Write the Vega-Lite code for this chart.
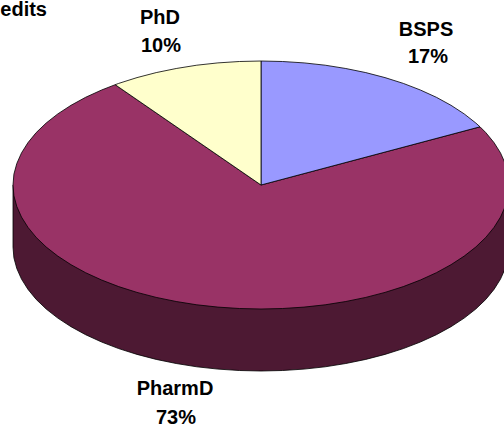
{"$schema":"https://vega.github.io/schema/vega-lite/v6.json","width":504,"height":432,"autosize":{"type":"fit","contains":"padding"},"padding":0,"background":"white","view":{"stroke":null},
"datasets":{"pie":[
{"s":"PharmD side","i":0,"x":509,"y":185},{"s":"PharmD side","i":1,"x":509,"y":247},{"s":"PharmD side","i":2,"x":508.1,"y":257.8},{"s":"PharmD side","i":3,"x":505.2,"y":268.5},{"s":"PharmD side","i":4,"x":500.5,"y":279.1},{"s":"PharmD side","i":5,"x":494,"y":289.4},{"s":"PharmD side","i":6,"x":485.8,"y":299.4},{"s":"PharmD side","i":7,"x":475.8,"y":309},{"s":"PharmD side","i":8,"x":464.2,"y":318.1},{"s":"PharmD side","i":9,"x":451,"y":326.7},{"s":"PharmD side","i":10,"x":436.4,"y":334.7},{"s":"PharmD side","i":11,"x":420.4,"y":342},{"s":"PharmD side","i":12,"x":403.3,"y":348.6},{"s":"PharmD side","i":13,"x":385,"y":354.4},{"s":"PharmD side","i":14,"x":365.8,"y":359.4},{"s":"PharmD side","i":15,"x":345.8,"y":363.5},{"s":"PharmD side","i":16,"x":325.2,"y":366.8},{"s":"PharmD side","i":17,"x":304.1,"y":369.1},{"s":"PharmD side","i":18,"x":282.6,"y":370.5},{"s":"PharmD side","i":19,"x":261,"y":371},{"s":"PharmD side","i":20,"x":239.4,"y":370.5},{"s":"PharmD side","i":21,"x":217.9,"y":369.1},{"s":"PharmD side","i":22,"x":196.8,"y":366.8},{"s":"PharmD side","i":23,"x":176.2,"y":363.5},{"s":"PharmD side","i":24,"x":156.2,"y":359.4},{"s":"PharmD side","i":25,"x":137,"y":354.4},{"s":"PharmD side","i":26,"x":118.7,"y":348.6},{"s":"PharmD side","i":27,"x":101.6,"y":342},{"s":"PharmD side","i":28,"x":85.6,"y":334.7},{"s":"PharmD side","i":29,"x":71,"y":326.7},{"s":"PharmD side","i":30,"x":57.8,"y":318.1},{"s":"PharmD side","i":31,"x":46.2,"y":309},{"s":"PharmD side","i":32,"x":36.2,"y":299.4},{"s":"PharmD side","i":33,"x":28,"y":289.4},{"s":"PharmD side","i":34,"x":21.5,"y":279.1},{"s":"PharmD side","i":35,"x":16.8,"y":268.5},{"s":"PharmD side","i":36,"x":13.9,"y":257.8},{"s":"PharmD side","i":37,"x":13,"y":247},{"s":"PharmD side","i":38,"x":13,"y":185},
{"s":"PharmD","i":0,"x":261,"y":185},{"s":"PharmD","i":1,"x":480,"y":126.8},{"s":"PharmD","i":2,"x":485.8,"y":132.6},{"s":"PharmD","i":3,"x":494,"y":142.6},{"s":"PharmD","i":4,"x":500.5,"y":152.9},{"s":"PharmD","i":5,"x":505.2,"y":163.5},{"s":"PharmD","i":6,"x":508.1,"y":174.2},{"s":"PharmD","i":7,"x":509,"y":185},{"s":"PharmD","i":8,"x":508.1,"y":195.8},{"s":"PharmD","i":9,"x":505.2,"y":206.5},{"s":"PharmD","i":10,"x":500.5,"y":217.1},{"s":"PharmD","i":11,"x":494,"y":227.4},{"s":"PharmD","i":12,"x":485.8,"y":237.4},{"s":"PharmD","i":13,"x":475.8,"y":247},{"s":"PharmD","i":14,"x":464.2,"y":256.1},{"s":"PharmD","i":15,"x":451,"y":264.7},{"s":"PharmD","i":16,"x":436.4,"y":272.7},{"s":"PharmD","i":17,"x":420.4,"y":280},{"s":"PharmD","i":18,"x":403.3,"y":286.6},{"s":"PharmD","i":19,"x":385,"y":292.4},{"s":"PharmD","i":20,"x":365.8,"y":297.4},{"s":"PharmD","i":21,"x":345.8,"y":301.5},{"s":"PharmD","i":22,"x":325.2,"y":304.8},{"s":"PharmD","i":23,"x":304.1,"y":307.1},{"s":"PharmD","i":24,"x":282.6,"y":308.5},{"s":"PharmD","i":25,"x":261,"y":309},{"s":"PharmD","i":26,"x":239.4,"y":308.5},{"s":"PharmD","i":27,"x":217.9,"y":307.1},{"s":"PharmD","i":28,"x":196.8,"y":304.8},{"s":"PharmD","i":29,"x":176.2,"y":301.5},{"s":"PharmD","i":30,"x":156.2,"y":297.4},{"s":"PharmD","i":31,"x":137,"y":292.4},{"s":"PharmD","i":32,"x":118.7,"y":286.6},{"s":"PharmD","i":33,"x":101.6,"y":280},{"s":"PharmD","i":34,"x":85.6,"y":272.7},{"s":"PharmD","i":35,"x":71,"y":264.7},{"s":"PharmD","i":36,"x":57.8,"y":256.1},{"s":"PharmD","i":37,"x":46.2,"y":247},{"s":"PharmD","i":38,"x":36.2,"y":237.4},{"s":"PharmD","i":39,"x":28,"y":227.4},{"s":"PharmD","i":40,"x":21.5,"y":217.1},{"s":"PharmD","i":41,"x":16.8,"y":206.5},{"s":"PharmD","i":42,"x":13.9,"y":195.8},{"s":"PharmD","i":43,"x":13,"y":185},{"s":"PharmD","i":44,"x":13.9,"y":174.2},{"s":"PharmD","i":45,"x":16.8,"y":163.5},{"s":"PharmD","i":46,"x":21.5,"y":152.9},{"s":"PharmD","i":47,"x":28,"y":142.6},{"s":"PharmD","i":48,"x":36.2,"y":132.6},{"s":"PharmD","i":49,"x":46.2,"y":123},{"s":"PharmD","i":50,"x":57.8,"y":113.9},{"s":"PharmD","i":51,"x":71,"y":105.3},{"s":"PharmD","i":52,"x":85.6,"y":97.3},{"s":"PharmD","i":53,"x":101.6,"y":90},{"s":"PharmD","i":54,"x":115.2,"y":84.7},{"s":"PharmD","i":55,"x":261,"y":185},
{"s":"BSPS","i":0,"x":261,"y":185},{"s":"BSPS","i":1,"x":261,"y":61},{"s":"BSPS","i":2,"x":282.6,"y":61.5},{"s":"BSPS","i":3,"x":304.1,"y":62.9},{"s":"BSPS","i":4,"x":325.2,"y":65.2},{"s":"BSPS","i":5,"x":345.8,"y":68.5},{"s":"BSPS","i":6,"x":365.8,"y":72.6},{"s":"BSPS","i":7,"x":385,"y":77.6},{"s":"BSPS","i":8,"x":403.3,"y":83.4},{"s":"BSPS","i":9,"x":420.4,"y":90},{"s":"BSPS","i":10,"x":436.4,"y":97.3},{"s":"BSPS","i":11,"x":451,"y":105.3},{"s":"BSPS","i":12,"x":464.2,"y":113.9},{"s":"BSPS","i":13,"x":475.8,"y":123},{"s":"BSPS","i":14,"x":480,"y":126.8},{"s":"BSPS","i":15,"x":261,"y":185},
{"s":"PhD","i":0,"x":261,"y":185},{"s":"PhD","i":1,"x":115.2,"y":84.7},{"s":"PhD","i":2,"x":118.7,"y":83.4},{"s":"PhD","i":3,"x":137,"y":77.6},{"s":"PhD","i":4,"x":156.2,"y":72.6},{"s":"PhD","i":5,"x":176.2,"y":68.5},{"s":"PhD","i":6,"x":196.8,"y":65.2},{"s":"PhD","i":7,"x":217.9,"y":62.9},{"s":"PhD","i":8,"x":239.4,"y":61.5},{"s":"PhD","i":9,"x":261,"y":61},{"s":"PhD","i":10,"x":261,"y":185}
],
"labels":[
{"t":"edits","x":47,"y":16,"a":"end"},
{"t":"PhD","x":160,"y":24},{"t":"10%","x":161,"y":52},
{"t":"BSPS","x":426,"y":36},{"t":"17%","x":428,"y":63},
{"t":"PharmD","x":175,"y":395},{"t":"73%","x":176,"y":424}
]},
"layer":[
{"data":{"name":"pie"},"mark":{"type":"line","stroke":"black","strokeWidth":0.8,"clip":true,"strokeJoin":"round"},
"encoding":{
"x":{"field":"x","type":"quantitative","scale":{"domain":[0,504],"nice":false,"zero":false},"axis":null},
"y":{"field":"y","type":"quantitative","scale":{"domain":[432,0],"nice":false,"zero":false},"axis":null},
"order":{"field":"i","type":"quantitative"},
"detail":{"field":"s"},
"fill":{"field":"s","type":"nominal","scale":{"domain":["PharmD side","PharmD","BSPS","PhD"],"range":["#4D1933","#993366","#9999FF","#FFFFCC"]},"legend":null}}},
{"data":{"name":"labels"},"transform":[{"filter":"datum.t==='edits'"}],"mark":{"type":"text","font":"Liberation Sans","fontWeight":"bold","fontSize":20,"align":"right","baseline":"alphabetic","color":"black"},
"encoding":{"x":{"field":"x","type":"quantitative","scale":{"domain":[0,504],"nice":false,"zero":false},"axis":null},"y":{"field":"y","type":"quantitative","scale":{"domain":[432,0],"nice":false,"zero":false},"axis":null},"text":{"field":"t"}}},
{"data":{"name":"labels"},"transform":[{"filter":"datum.t!=='edits'"}],"mark":{"type":"text","font":"Liberation Sans","fontWeight":"bold","fontSize":20,"align":"center","baseline":"alphabetic","color":"black"},
"encoding":{"x":{"field":"x","type":"quantitative","scale":{"domain":[0,504],"nice":false,"zero":false},"axis":null},"y":{"field":"y","type":"quantitative","scale":{"domain":[432,0],"nice":false,"zero":false},"axis":null},"text":{"field":"t"}}}
]}
